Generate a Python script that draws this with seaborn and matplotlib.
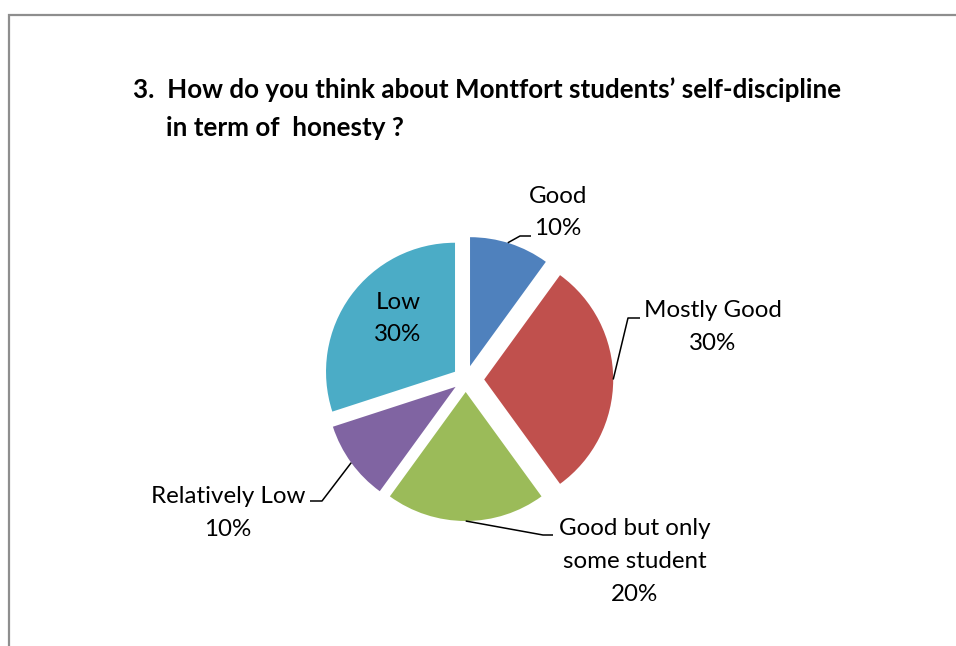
import numpy as np
import matplotlib
matplotlib.use("Agg")
import matplotlib.pyplot as plt
import seaborn as sns

# Survey answers and their shares (percent)
categories = ["Good", "Mostly Good", "Good but only\nsome student", "Relatively Low", "Low"]
shares = [10, 30, 20, 10, 30]
colors = ["#4F81BD", "#C0504D", "#9BBB59", "#8064A2", "#4BACC6"]
title_lines = ["3.  How do you think about Montfort students\u2019 self-discipline",
               "in term of  honesty ?"]

W, H = 956, 646

sns.set_theme(style="white")
plt.rcParams["font.family"] = ["Lato", "DejaVu Sans"]

fig = plt.figure(figsize=(W / 100, H / 100), dpi=100)
ax = fig.add_axes([0, 0, 1, 1])


def sy(y):
    """Convert a top-down pixel row into the upward data axis."""
    return H - y


radius = 129
center = (465.7, sy(379.5))
explode = [14, 18.5, 12.5, 12.5, 13.2]

wedges, _ = ax.pie(shares, colors=sns.color_palette(colors), startangle=90,
                   counterclock=False, radius=radius, center=center,
                   explode=explode, wedgeprops=dict(linewidth=0), frame=True)

ax.set_xlim(0, W)
ax.set_ylim(0, H)
ax.set_aspect("equal", adjustable="box")
ax.axis("off")

# Label layout: text centre x, baselines, and leader geometry
layout = [
    dict(x=558, base=[203, 235], leader=(73, (520, 236), (531, 236))),
    dict(x=713, base=[317, 350], leader=(0, (628, 318), (640, 318))),
    dict(x=635, base=[535, 568, 601], leader=(-90, (543, 535), (553, 535))),
    dict(x=228, base=[503, 536], leader=(216, (322, 501), (310, 501))),
    dict(x=398, base=[309, 341], leader=None),
]

fs_label = 17.4
for wedge, name, share, lay in zip(wedges, categories, shares, layout):
    lines = name.split("\n") + [f"{share}%"]
    for txt, b in zip(lines, lay["base"]):
        ax.text(lay["x"], sy(b), txt, ha="center", va="baseline",
                fontsize=fs_label, color="black")
    if lay["leader"] is not None:
        ang, elbow, end = lay["leader"]
        wx, wy = wedge.center
        sx = wx + wedge.r * np.cos(np.radians(ang))
        syy = wy + wedge.r * np.sin(np.radians(ang))
        ax.plot([sx, elbow[0], end[0]], [syy, sy(elbow[1]), sy(end[1])],
                color="black", lw=1.1, solid_capstyle="butt")

# Title, two lines
ax.text(133, sy(98), title_lines[0], ha="left", va="baseline",
        fontsize=18.7, fontweight="bold", color="black")
ax.text(166, sy(136), title_lines[1], ha="left", va="baseline",
        fontsize=18.7, fontweight="bold", color="black")

# Chart-area border (top and left edges)
ax.plot([9, 9, W + 5], [sy(H + 5), sy(15), sy(15)], color="#8E8E8E",
        lw=1.6, clip_on=False, solid_joinstyle="miter")

fig.savefig("out.png", dpi=100)
